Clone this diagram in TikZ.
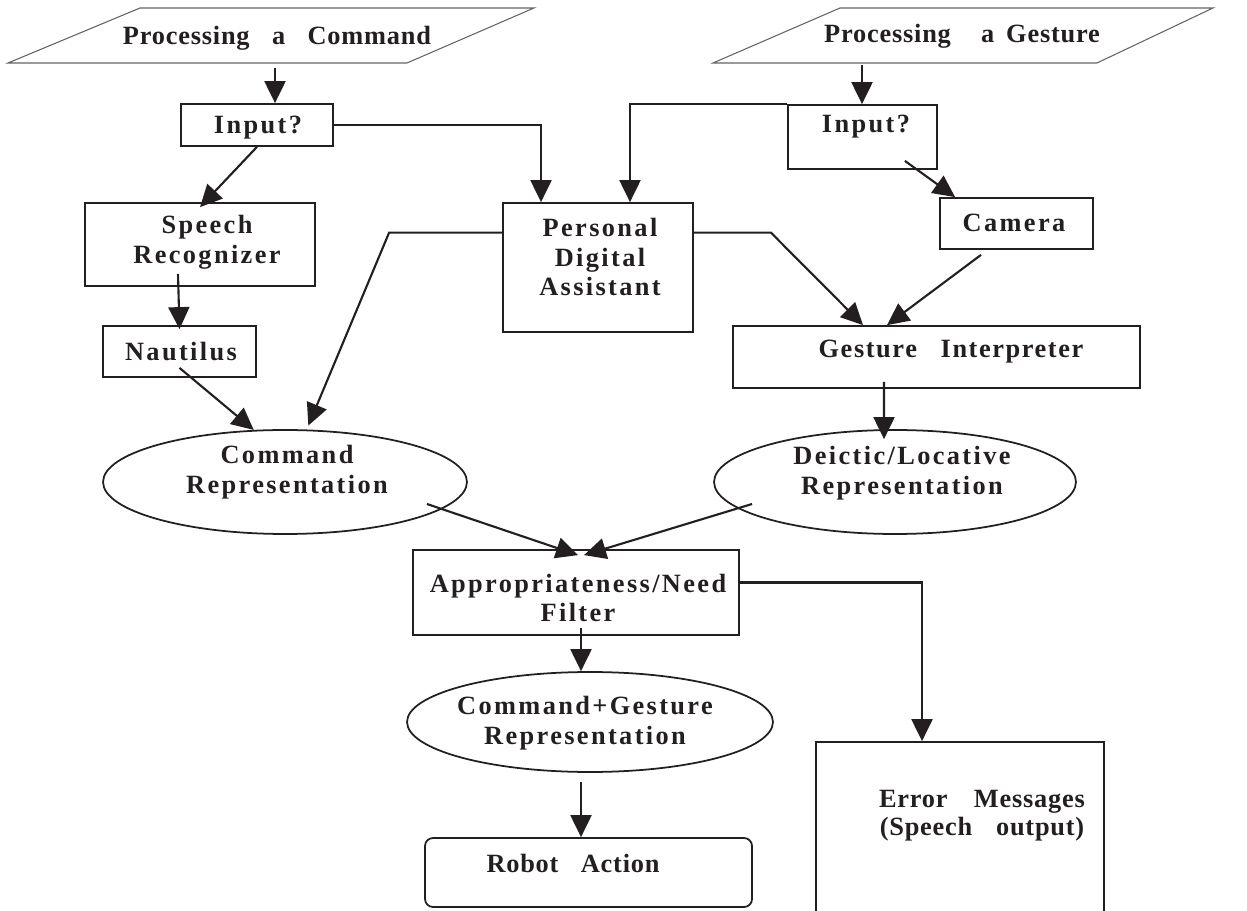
\documentclass[tikz,border=0pt]{standalone}
\usepackage{fontspec}
\setmainfont{Liberation Serif}
\newfontfamily\spfont{Liberation Serif}[LetterSpace=9]
\newfontfamily\gifont{Liberation Serif}[LetterSpace=6]
\newfontfamily\plfont{Liberation Serif}[LetterSpace=3]
\usetikzlibrary{arrows.meta,shapes.geometric,fit}
\definecolor{ink}{HTML}{231F20}
\begin{document}
\begin{tikzpicture}[x=0.02cm,y=-0.02cm,
  box/.style={draw=ink,line width=1pt,inner sep=0pt},
  oval/.style={draw=ink,line width=1pt,ellipse,inner sep=0pt},
  lbl/.style={text=ink,font=\fontsize{15}{17}\selectfont\spfont\bfseries,align=center,inner sep=0pt},
  glbl/.style={text=ink,font=\fontsize{15}{17}\selectfont\gifont\bfseries,align=center,inner sep=0pt},
  plbl/.style={text=ink,font=\fontsize{15}{16}\selectfont\plfont\bfseries,align=center,inner sep=0pt},
  arr/.style={draw=ink,line width=1.2pt,-{Triangle[length=0.44cm,width=0.42cm]}},
  para/.style={draw=ink!70,line width=0.6pt}]
\useasboundingbox (0,0) rectangle (1247,911);
\clip (0,0) rectangle (1247,911);

% parallelograms
\draw[para] (140,8) -- (534,8) -- (407,63) -- (8,63) -- cycle;
\draw[para] (840,8) -- (1213,8) -- (1097,63) -- (713,63) -- cycle;
\node[plbl] (p1) at (277,38) {Processing\hspace{0.85em}a\hspace{0.85em}Command};
\node[plbl] (p2) at (962,36) {Processing\hspace{1.15em}a\hspace{0.45em}Gesture};

% boxes
\node[box,fit={(181,104) (333,146)}] (in1) {};
\node[box,fit={(788,105) (937,169)}] (in2) {};
\node[box,fit={(85,203) (315,286)}] (speech) {};
\node[box,fit={(103,326) (256,377)}] (naut) {};
\node[box,fit={(503,203) (693,332)}] (pda) {};
\node[box,fit={(940,198) (1093,249)}] (cam) {};
\node[box,fit={(733,326) (1140,388)}] (gi) {};
\node[box,fit={(413,550) (739,635)}] (filter) {};
\node[box,rounded corners=0.16cm,fit={(425,838) (752,907)}] (robot) {};
\node[box,fit={(816,742) (1104,960)}] (err) {};
\node[oval,minimum width=7.28cm,minimum height=2.08cm] (cmdrep) at (285,482) {};
\node[oval,minimum width=7.24cm,minimum height=2.08cm] (deic) at (895,482) {};
\node[oval,minimum width=7.32cm,minimum height=2.0cm] (cg) at (590,722) {};

% labels
\node[lbl] (tin1) at (258,128) {Input?};
\node[lbl] (tin2) at (866,127) {Input?};
\node[lbl] (tspeech) at (207,242) {Speech\\Recognizer};
\node[lbl] (tnaut) at (181,352) {Nautilus};
\node[lbl] (tpda) at (600,257) {Personal\\Digital\\Assistant};
\node[lbl] (tcam) at (1014,223) {Camera};
\node[glbl] (tgi) at (951,352) {Gesture\hspace{0.9em}Interpreter};
\node[lbl] (tcmd) at (287,472) {Command\\Representation};
\node[lbl] (tdeic) at (902,473) {Deictic/Locative\\Representation};
\node[lbl] (tfilter) at (578,598) {Appropriateness/Need\\Filter};
\node[lbl] (tcg) at (585,723) {Command+Gesture\\Representation};
\node[plbl] (trobot) at (573,863) {Robot\hspace{0.85em}Action};
\node[plbl] (terr) at (982,816) {Error\hspace{1em}Messages\\(Speech\hspace{0.9em}output)};

% connectors
\coordinate (p1b) at (275,68);
\coordinate (p2b) at (862,65);
\draw[arr] (p1b) -- (p1b |- in1.north);
\draw[arr] (p2b) -- (p2b |- in2.north);
\draw[arr] (in1.east) -| ([xshift=-1.14cm]pda.north);
\draw[arr] (in2.north west) -| ([xshift=0.64cm]pda.north);
\draw[arr] (in1.south) -- ([yshift=-0.1cm]speech.north);
\draw[arr] ([shift={(-0.44cm,0.26cm)}]speech.south) -- ([yshift=-0.08cm]naut.north);
\draw[arr] ([yshift=0.2cm]naut.south) -- (cmdrep.121);
\draw[arr] (pda.160) -- ++(-113,0) -- ([yshift=0.08cm]cmdrep.66);
\draw[arr] (pda.20) -- ++(77,0) -- ([xshift=-1.47cm]gi.north);
\draw[arr] ([shift={(-0.66cm,0.18cm)}]in2.south east) -- ([xshift=0.32cm]cam.north west);
\draw[arr] ([shift={(-0.71cm,-0.1cm)}]cam.south) -- ([xshift=-0.99cm]gi.north);
\draw[arr] ([shift={(-1.05cm,0.14cm)}]gi.south) -- ([shift={(-0.22cm,-0.2cm)}]deic.north);
\draw[arr] ([shift={(2.84cm,-0.44cm)}]cmdrep.center) -- ([shift={(0.04cm,-0.12cm)}]filter.north);
\draw[arr] ([shift={(-2.86cm,-0.44cm)}]deic.center) -- ([shift={(0.16cm,-0.12cm)}]filter.north);
\draw[arr] ([yshift=0.2cm]filter.east) -| ([xshift=-0.76cm]err.north);
\coordinate (fs) at ([shift={(0.1cm,0.16cm)}]filter.south);
\draw[arr] (fs) -- (fs |- cg.north);
\coordinate (cgs) at ([shift={(-0.18cm,-0.18cm)}]cg.south);
\draw[arr] (cgs) -- (cgs |- robot.north);
\end{tikzpicture}
\end{document}
